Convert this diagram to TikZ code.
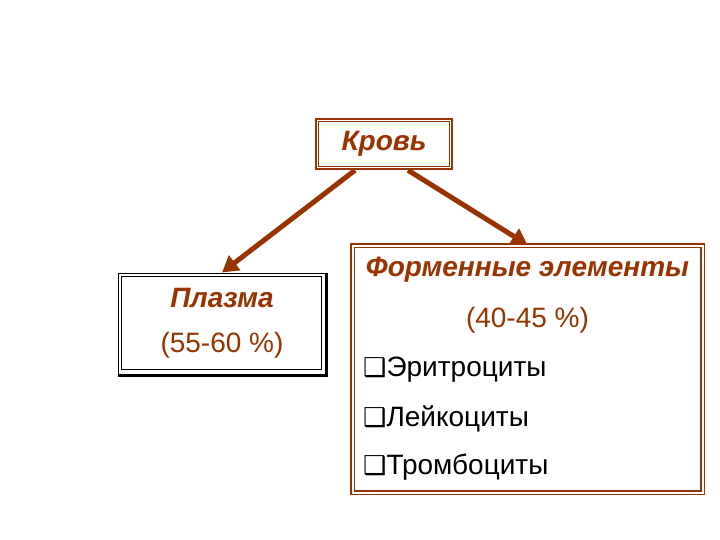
\documentclass[tikz,border=0pt]{standalone}
\usepackage{fontspec}
\setmainfont{Liberation Sans}
\newfontfamily\symfont{DejaVu Sans}
\usetikzlibrary{positioning}
\usetikzlibrary{arrows.meta}
\definecolor{bloodbrown}{HTML}{993300}
\newcommand{\sqbullet}{{\symfont\fontsize{26}{30}\selectfont ❑}}

\begin{document}
\begin{tikzpicture}[x=1pt,y=1pt,node distance=48.5pt,
	txt/.style={font=\fontsize{28}{32}\selectfont,inner sep=0pt},
	head/.style={font=\fontsize{28}{32}\selectfont\bfseries\itshape,text=bloodbrown,inner sep=0pt},
	item/.style={txt,anchor=west},
	brown box/.style={draw=bloodbrown,line width=2.5pt,inner sep=0pt},
	black box/.style={draw=black,line width=1pt,inner sep=0pt},
	branch/.style={draw=bloodbrown,line width=5pt,-{Triangle[length=16pt,width=18pt]}}]
	
	\fill[white] (0,0) rectangle (720,-540);
	\useasboundingbox (0,0) rectangle (720,-540);
	
	% top box
	\node[brown box,minimum width=136,minimum height=50] (krov) at (384,-144) {};
	\draw[bloodbrown,line width=1.2pt] ([shift={(4,4)}]krov.south west) rectangle ([shift={(-4,-4)}]krov.north east);
	\node[head] (krovname) at (krov.center) {Кровь};
	
	% plasma
	\node[black box,minimum width=208,minimum height=101] (plasma) at (222,-323.5) {};
	\draw[line width=1pt] ([shift={(4,5)}]plasma.south west) rectangle ([shift={(-5,-4)}]plasma.north east);
	\draw[line width=3.5pt] ([yshift=-1]plasma.south west) -- ([yshift=-1]plasma.south east) -- (plasma.north east);
	\node[head] (plasmaname) at ([yshift=25]plasma.center) {Плазма};
	\node[txt,text=bloodbrown] (plasmapct) at ([yshift=-22]plasma.center) {(55-60 \%)};
	
	% formed elements
	\node[brown box,line width=1.2pt,double=white,double distance=2pt,minimum width=350,minimum height=247] (fe) at (527.5,-369) {};
	\node[head] (fename) at ([yshift=-25]fe.north) {Форменные элементы};
	\node[txt,text=bloodbrown] (fepct) at (527.5,-320) {(40-45 \%)};
	\node[item] (ery) at (363,-370) {\sqbullet Эритроциты};
	\node[item] (leu) at ([yshift=-48.5]ery.west) {\sqbullet Лейкоциты};
	\node[item] (thr) at ([yshift=-48.5]leu.west) {\sqbullet Тромбоциты};
	
	\draw[branch] ([xshift=-29]krov.south) -- (plasma.north);
	\draw[branch] ([xshift=24]krov.south) -- (fe.north);
\end{tikzpicture}
\end{document}
